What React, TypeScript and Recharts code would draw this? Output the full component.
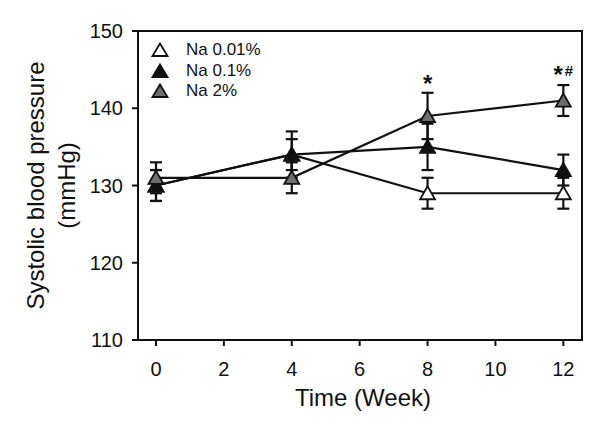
import React from 'react';
import { LineChart, Line, XAxis, YAxis, ErrorBar, ReferenceArea, ReferenceDot, Legend, Label } from 'recharts';

const weeks = [0, 4, 8, 12];
const na001 = [130, 134, 129, 129];
const na001Err = [2, 2, 2, 2];
const na01 = [130, 134, 135, 132];
const na01Err = [2, 3, 3, 2];
const na2 = [131, 131, 139, 141];
const na2Err = [2, 2, 3, 2];
const xTicks = [0, 2, 4, 6, 8, 10, 12];
const yTicks = [110, 120, 130, 140, 150];
const seriesNames = ['Na 0.01%', 'Na 0.1%', 'Na 2%'];
const sigWeeks = [8, 12];
const sigMarks = ['*', '*#'];

const FONT = '"Liberation Sans", Arial, sans-serif';
const INK = '#111111';
const fills = ['#ffffff', '#111111', '#6e6e6e'];
const xDomain = [-0.53, 12.55];
const yDomain = [110, 150];

const data = weeks.map((w, i) => ({
  week: w,
  a: na001[i], aErr: na001Err[i],
  b: na01[i], bErr: na01Err[i],
  c: na2[i], cErr: na2Err[i],
}));

const makeTri = (fill: string) => (props: any) => {
  const { cx, cy, index } = props;
  if (cx == null || cy == null) return <g key={index} />;
  return (
    <polygon
      key={index}
      points={`${cx},${cy - 7} ${cx - 7.5},${cy + 6} ${cx + 7.5},${cy + 6}`}
      fill={fill}
      stroke={INK}
      strokeWidth={1.8}
      strokeLinejoin="miter"
    />
  );
};

const renderLegend = () => (
  <div style={{ display: 'flex', flexDirection: 'column', fontFamily: FONT, fontSize: 17, color: INK }}>
    {seriesNames.map((n, i) => (
      <div key={n} style={{ display: 'flex', alignItems: 'center', height: 20.5 }}>
        <svg width={18} height={16} style={{ display: 'block' }}>
          <polygon points="9,1.5 1.5,14 16.5,14" fill={fills[i]} stroke={INK} strokeWidth={1.8} />
        </svg>
        <span style={{ marginLeft: 17, lineHeight: '20px' }}>{n}</span>
      </div>
    ))}
  </div>
);

const YLabel = (props: any) => {
  const vb = props.viewBox || { x: 0, y: 31, width: 138, height: 309 };
  const cy = vb.y + vb.height / 2;
  const x1 = 35;
  const x2 = 66;
  return (
    <g>
      <text x={x1} y={cy} transform={`rotate(-90, ${x1}, ${cy})`} textAnchor="middle" dominantBaseline="central" fontSize={24} fontFamily={FONT} fill={INK}>
        Systolic blood pressure
      </text>
      <text x={x2} y={cy} transform={`rotate(-90, ${x2}, ${cy})`} textAnchor="middle" dominantBaseline="central" fontSize={24} fontFamily={FONT} fill={INK}>
        (mmHg)
      </text>
    </g>
  );
};

const XLabel = (props: any) => {
  const vb = props.viewBox || { x: 138, y: 340, width: 444, height: 87 };
  const cx = vb.x + vb.width / 2 + 3;
  return (
    <text x={cx} y={vb.y + 57} textAnchor="middle" dominantBaseline="central" fontSize={24} fontFamily={FONT} fill={INK}>
      Time (Week)
    </text>
  );
};

const SigLabel = (props: any) => {
  const { viewBox, mark } = props;
  if (!viewBox) return null;
  const x = viewBox.x + (viewBox.width || 0) / 2;
  const y = viewBox.y;
  if (mark === '*') {
    return (
      <text x={x} y={y - 0.5} textAnchor="middle" fontSize={24} fontWeight="bold" fontFamily={FONT} fill={INK}>*</text>
    );
  }
  return (
    <text x={x} y={y - 8.6} textAnchor="middle" fontFamily={FONT} fontWeight="bold" fill={INK}>
      <tspan fontSize={24} dy={6.5}>*</tspan>
      <tspan fontSize={15} dy={-6.5} dx={2}>#</tspan>
    </text>
  );
};

export default function App() {
  return (
    <div style={{ position: 'absolute', left: 0, top: 0, width: 600, height: 427, background: '#fff' }}>
      <LineChart width={600} height={427} data={data} margin={{ top: 31, right: 18, bottom: 0, left: 0 }}>
        <XAxis
          dataKey="week"
          type="number"
          domain={xDomain}
          ticks={xTicks}
          allowDataOverflow
          height={87}
          tickSize={6}
          tickMargin={16}
          axisLine={{ stroke: INK, strokeWidth: 2 }}
          tickLine={{ stroke: INK, strokeWidth: 2 }}
          tick={{ fontSize: 20, fill: INK, fontFamily: FONT }}
        >
          <Label content={<XLabel />} />
        </XAxis>
        <YAxis
          type="number"
          domain={yDomain}
          ticks={yTicks}
          allowDataOverflow
          width={138}
          tickSize={6}
          tickMargin={9}
          axisLine={{ stroke: INK, strokeWidth: 2 }}
          tickLine={{ stroke: INK, strokeWidth: 2 }}
          tick={{ fontSize: 20, fill: INK, fontFamily: FONT }}
        >
          <Label content={<YLabel />} />
        </YAxis>
        <ReferenceArea x1={xDomain[0]} x2={xDomain[1]} y1={yDomain[0]} y2={yDomain[1]} fill="none" fillOpacity={0} stroke={INK} strokeWidth={2} />
        <Legend
          content={renderLegend}
          layout="vertical"
          align="center"
          verticalAlign="middle"
          wrapperStyle={{ left: 151, top: 40, width: 'auto' }}
        />
        <Line dataKey="a" name={seriesNames[0]} stroke={INK} strokeWidth={2.2} dot={makeTri(fills[0])} activeDot={false} isAnimationActive={false}>
          <ErrorBar dataKey="aErr" direction="y" width={6} stroke={INK} strokeWidth={2.2} isAnimationActive={false} />
        </Line>
        <Line dataKey="b" name={seriesNames[1]} stroke={INK} strokeWidth={2.2} dot={makeTri(fills[1])} activeDot={false} isAnimationActive={false}>
          <ErrorBar dataKey="bErr" direction="y" width={6} stroke={INK} strokeWidth={2.2} isAnimationActive={false} />
        </Line>
        <Line dataKey="c" name={seriesNames[2]} stroke={INK} strokeWidth={2.2} dot={makeTri(fills[2])} activeDot={false} isAnimationActive={false}>
          <ErrorBar dataKey="cErr" direction="y" width={6} stroke={INK} strokeWidth={2.2} isAnimationActive={false} />
        </Line>
        {sigWeeks.map((w, k) => {
          const i = weeks.indexOf(w);
          return (
            <ReferenceDot
              key={w}
              x={w}
              y={na2[i] + na2Err[i]}
              r={0}
              fill="none"
              stroke="none"
              label={<SigLabel mark={sigMarks[k]} />}
            />
          );
        })}
      </LineChart>
    </div>
  );
}
